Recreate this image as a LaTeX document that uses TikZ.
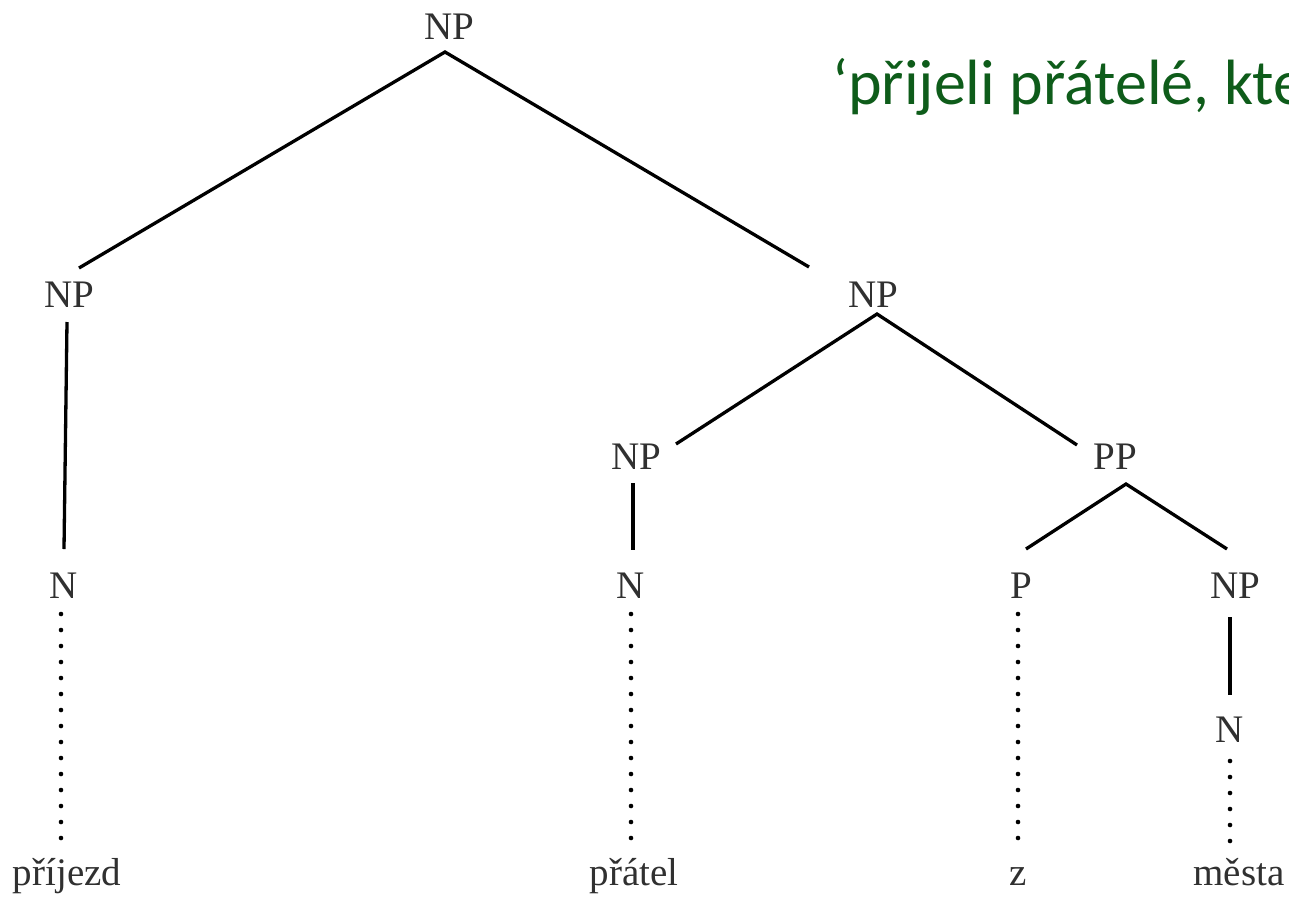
\documentclass[tikz,border=0pt]{standalone}
\usepackage{fontspec}
\setmainfont{Liberation Serif}
\newfontfamily\glossfont{Carlito}
\usepackage{tikz}
\usetikzlibrary{positioning}
\definecolor{glossgreen}{RGB}{14,92,26}
\definecolor{labelgray}{RGB}{48,48,48}
\tikzset{
  cat/.style={anchor=base, inner sep=0pt, text=labelgray, font=\fontsize{39}{39}\selectfont},
  branch/.style={line width=3.3pt},
  leafline/.style={line width=4.6pt, line cap=round, dash pattern=on 0pt off 16pt}
}

\begin{document}
\begin{tikzpicture}[x=1pt, y=-1pt]
  \useasboundingbox (0,0) rectangle (1289,897);
  % categories
  \node[cat]	(NP0)	at	(449,39)	{NP};
  \node[cat]	(NP1)	at	(69,307)	{NP};
  \node[cat]	(NP2)	at	(873,307)	{NP};
  \node[cat]	(NP3)	at	(636,469)	{NP};
  \node[cat]	(PP)	at	(1115,469)	{PP};
  \node[cat]	(N1)	at	(64,598)	{N};
  \node[cat]	(N2)	at	(631,598)	{N};
  \node[cat]	(P)	at	(1021,598)	{P};
  \node[cat]	(NP4)	at	(1235,598)	{NP};
  \node[cat]	(N3)	at	(1230,742)	{N};
  % words
  \node[cat]	(W1)	at	(67,885)	{příjezd};
  \node[cat]	(W2)	at	(634,885)	{přátel};
  \node[cat]	(W3)	at	(1018,885)	{z};
  \node[cat]	(W4)	at	(1239,885)	{města};
  % gloss
  \begin{scope}
    \clip (0,0) rectangle (1289,897);
    \node[anchor=base west, inner sep=0pt, text=glossgreen, font=\glossfont\fontsize{64}{64}\selectfont] (gloss) at (832,104) {‘přijeli přátelé, kte};
  \end{scope}
  % branch ends
  \coordinate	(NP0b)	at	(445,52);
  \coordinate	(NP1t)	at	(79,268);
  \coordinate	(NP2t)	at	(809,267);
  \coordinate	(NP1b)	at	(67,322);
  \coordinate	(N1t)	at	(64,549);
  \coordinate	(NP2b)	at	(877,314);
  \coordinate	(NP3t)	at	(676,444);
  \coordinate	(PPt)	at	(1077,445);
  \coordinate	(NP3b)	at	(633,483);
  \coordinate	(N2t)	at	(633,550);
  \coordinate	(PPb)	at	(1126,484);
  \coordinate	(Pt)	at	(1026,549);
  \coordinate	(NP4t)	at	(1227,549);
  \coordinate	(NP4b)	at	(1230,617);
  \coordinate	(N3t)	at	(1230,695);
  \coordinate	(N1b)	at	(61,614);
  \coordinate	(W1t)	at	(61,846);
  \coordinate	(N2b)	at	(631,614);
  \coordinate	(W2t)	at	(631,846);
  \coordinate	(Pb)	at	(1018,614);
  \coordinate	(W3t)	at	(1018,846);
  \coordinate	(N3b)	at	(1230,761);
  \coordinate	(W4t)	at	(1230,846);
  \draw[branch] (NP1t) -- (NP0b) -- (NP2t);
  \draw[branch] (NP1b) -- (N1t);
  \draw[branch] (NP3t) -- (NP2b) -- (PPt);
  \draw[branch] (NP3b) -- (N2t);
  \draw[branch] (Pt) -- (PPb) -- (NP4t);
  \draw[branch] (NP4b) -- (N3t);
  \draw[leafline] (N1b) -- (W1t);
  \draw[leafline] (N2b) -- (W2t);
  \draw[leafline] (Pb) -- (W3t);
  \draw[leafline] (N3b) -- (W4t);
\end{tikzpicture}
\end{document}
